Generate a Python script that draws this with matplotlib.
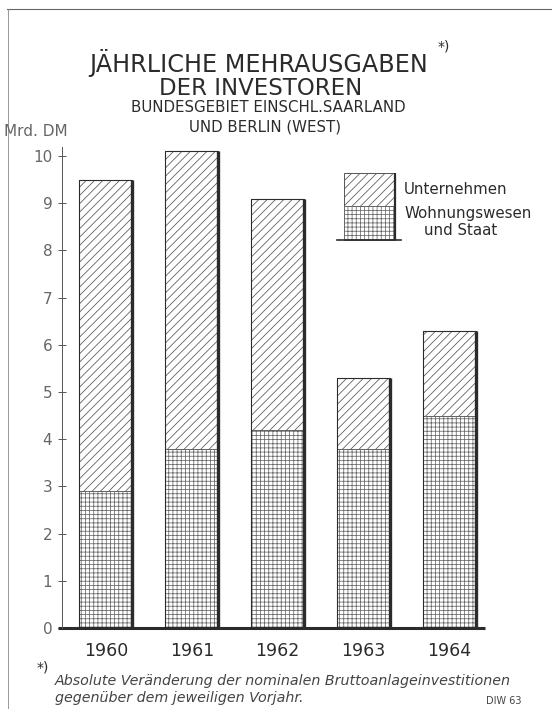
import numpy as np
import matplotlib
matplotlib.use('Agg')
import matplotlib.pyplot as plt
from matplotlib.patches import Rectangle
from matplotlib.lines import Line2D

### data (Mrd. DM)
years = ['1960', '1961', '1962', '1963', '1964']
wohnung_staat = [2.9, 3.8, 4.2, 3.8, 4.5]
gesamt = [9.5, 10.1, 9.1, 5.3, 6.3]
unternehmen = [g - w for g, w in zip(gesamt, wohnung_staat)]
yticks = [0, 1, 2, 3, 4, 5, 6, 7, 8, 9, 10]

ink = '#2b2b2b'
grey = '#555555'

plt.rcParams['font.family'] = ['DejaVu Sans']
plt.rcParams['hatch.linewidth'] = 0.55

fig = plt.figure(figsize=(5.52, 7.09), dpi=100)
ax = fig.add_axes([0.1123, 0.1142, 0.766, 0.679])

x = np.arange(len(years))
w = 0.62
ax.bar(x, wohnung_staat, width=w, color='white', edgecolor='#666666',
       hatch='++++', linewidth=0.6)
ax.bar(x, unternehmen, width=w, bottom=wohnung_staat, color='white',
       edgecolor=grey, hatch='////', linewidth=0.6)
# outline + dark shadow on the right edge
ax.bar(x, gesamt, width=w, color='none', edgecolor=ink, linewidth=0.8)
ax.vlines(x + w / 2, 0, gesamt, color=ink, linewidth=2.4)

ax.set_xlim(-0.51, 4.41)
ax.set_ylim(0, 10.2)
ax.set_yticks(yticks)
ax.set_yticklabels([str(t) for t in yticks], fontsize=11)
ax.set_xticks(x)
ax.set_xticklabels(years, fontsize=12.5, color=ink)
ax.tick_params(axis='y', direction='inout', length=6, width=0.7,
               colors=grey, pad=4)
ax.tick_params(axis='y', labelcolor='#666666')
ax.tick_params(axis='x', length=0, pad=10)
for s in ['top', 'right']:
    ax.spines[s].set_visible(False)
ax.spines['left'].set_color(grey)
ax.spines['left'].set_linewidth(0.7)
ax.spines['bottom'].set_visible(False)
ax.plot([-0.56, 4.41], [0, 0], color=ink, linewidth=2.2,
        clip_on=False, solid_capstyle='butt')

# legend drawn by hand like the original
ax.add_patch(Rectangle((2.77, 8.94), 0.60, 0.70, facecolor='white',
                       edgecolor=grey, hatch='////', linewidth=0.7))
ax.add_patch(Rectangle((2.77, 8.22), 0.60, 0.72, facecolor='white',
                       edgecolor='#666666', hatch='++++', linewidth=0.7))
ax.vlines(3.37, 8.22, 9.64, color=ink, linewidth=1.6)
ax.plot([2.69, 3.43], [8.22, 8.22], color=ink, linewidth=1.2)
ax.text(3.47, 9.30, 'Unternehmen', fontsize=10.8, color=ink, va='center')
ax.text(3.47, 8.78, 'Wohnungswesen', fontsize=10.8, color=ink, va='center')
ax.text(3.70, 8.42, 'und Staat', fontsize=10.8, color=ink, va='center')

# titles
fig.text(0.468, 0.911, 'JÄHRLICHE MEHRAUSGABEN', ha='center', va='center',
         fontsize=17.2, color=ink)
fig.text(0.803, 0.935, '*)', ha='center', va='center', fontsize=10, color=ink)
fig.text(0.472, 0.875, 'DER INVESTOREN', ha='center', va='center',
         fontsize=16.5, color=ink)
fig.text(0.486, 0.848, 'BUNDESGEBIET EINSCHL.SAARLAND', ha='center',
         va='center', fontsize=10.8, color=ink)
fig.text(0.480, 0.821, 'UND BERLIN (WEST)', ha='center', va='center',
         fontsize=10.8, color=ink)
fig.text(0.008, 0.815, 'Mrd. DM', ha='left', va='center', fontsize=11,
         color='#666666')

# footnote
fig.text(0.066, 0.058, '*)', ha='left', va='center', fontsize=10, color=ink)
fig.text(0.100, 0.039, 'Absolute Veränderung der nominalen Bruttoanlageinvestitionen',
         ha='left', va='center', fontsize=10.3, style='italic', color='#444444')
fig.text(0.100, 0.016, 'gegenüber dem jeweiligen Vorjahr.', ha='left',
         va='center', fontsize=10.3, style='italic', color='#444444')
fig.text(0.945, 0.004, 'DIW 63', ha='right', va='bottom', fontsize=7,
         color='#444444')

# frame lines of the scanned page
fig.add_artist(Line2D([0.012, 1.0], [0.988, 0.988], transform=fig.transFigure,
                      color='#666666', linewidth=0.8))
fig.add_artist(Line2D([0.014, 0.014], [0.0, 0.988], transform=fig.transFigure,
                      color='#888888', linewidth=0.6))

fig.savefig('out.png', dpi=100, facecolor='white')
